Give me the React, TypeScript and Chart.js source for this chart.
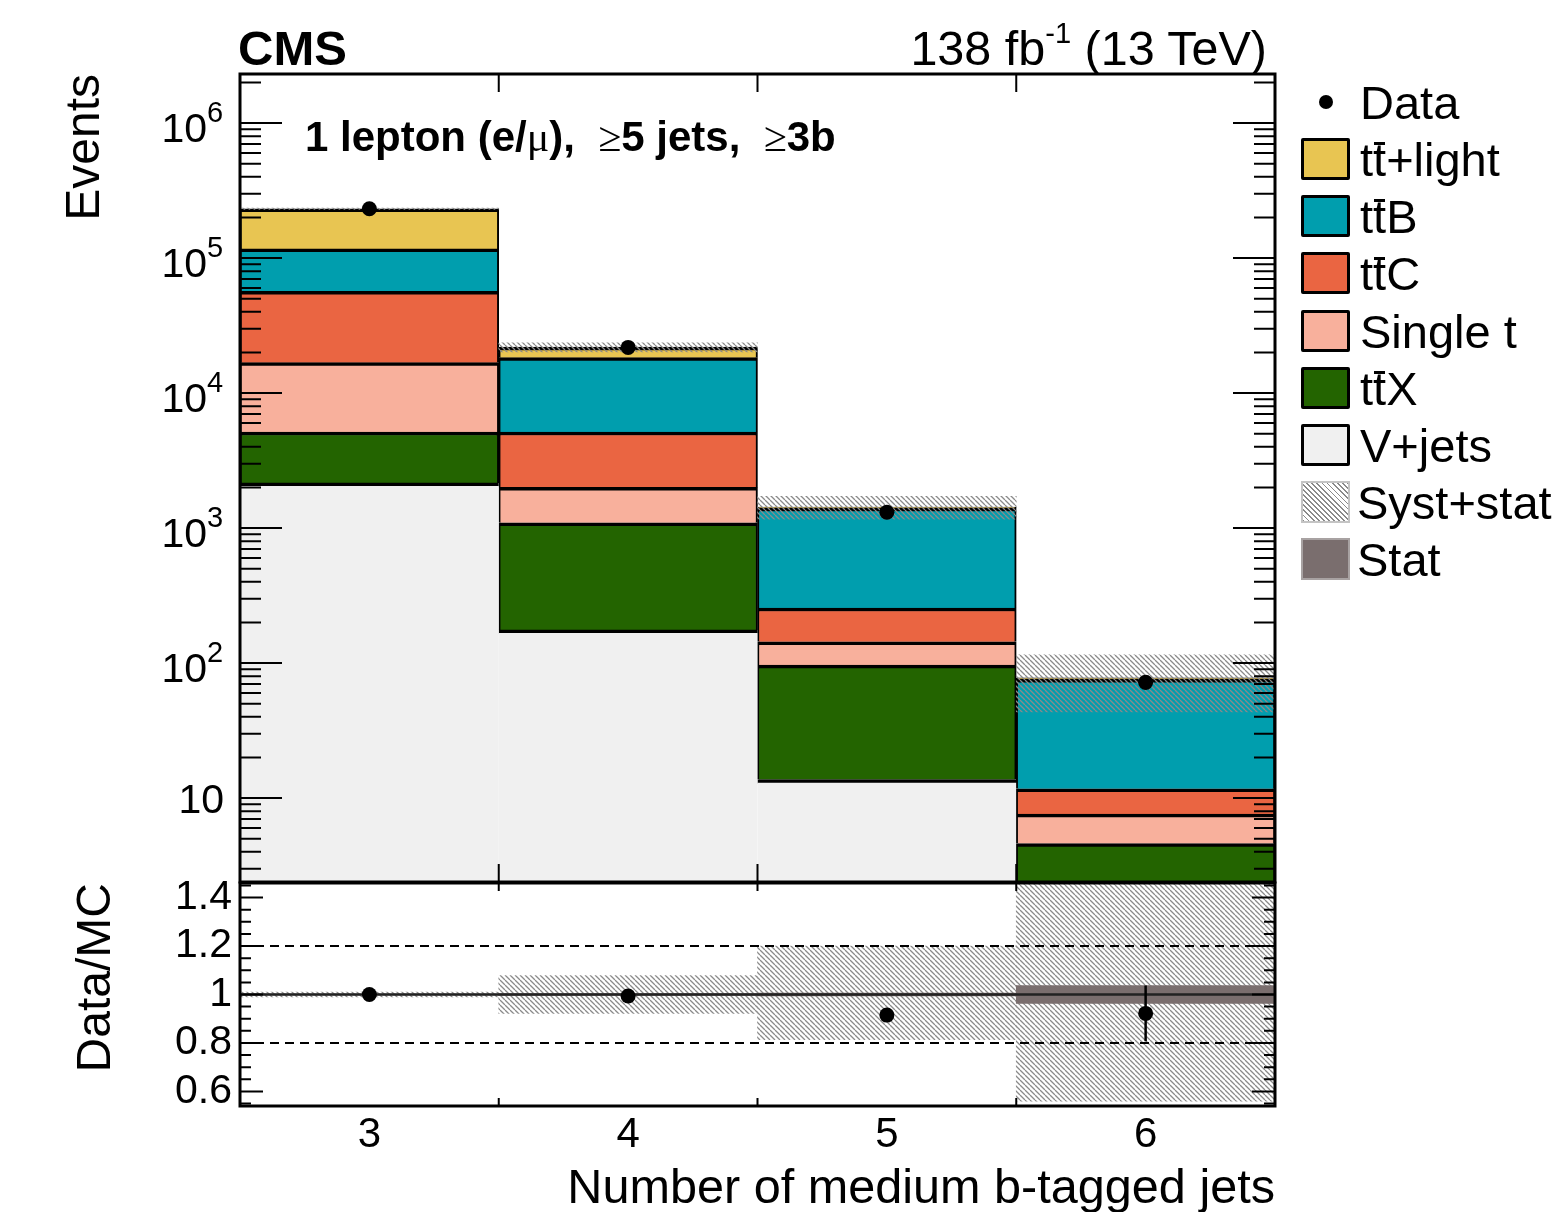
import React, { useEffect, useRef } from 'react';
import { Chart, registerables } from 'chart.js';

Chart.register(...registerables);

const FONT = "'Liberation Sans', Arial, Helvetica, sans-serif";

// ---------------- data ----------------
const categories = ['3', '4', '5', '6'];
const vJets = [2160, 176, 13.7, 0.5];
const ttX = [2990, 920, 83, 4.1];
const singleT = [11650, 904, 47, 3.0];
const ttC = [39900, 3150, 112, 4.1];
const ttB = [60300, 13150, 1150, 64];
const ttLight = [115000, 3600, 25, 2];
const dataCounts = [232000, 21800, 1310, 72];
const dataErr = [480, 148, 36, 8.5];
const systUp = [0.01, 0.078, 0.2, 0.48];
const systDown = [0.01, 0.078, 0.186, 0.44];
const statUnc = [0.002, 0.004, 0.006, 0.037];
const ratioValues = [1.0, 0.994, 0.915, 0.922];
const ratioErrUp = [0.003, 0.007, 0.026, 0.115];
const ratioErrDown = [0.003, 0.007, 0.026, 0.115];
const logTickValues = [10, 100, 1000, 10000, 100000, 1000000];
const logTickBases = ['10', '10', '10', '10', '10', '10'];
const logTickExponents = ['', '2', '3', '4', '5', '6'];
const ratioTickValues = [0.6, 0.8, 1.0, 1.2, 1.4];
const ratioTickLabels = ['0.6', '0.8', '1', '1.2', '1.4'];
const ratioDashedLines = [0.8, 1.2];
const ratioSolidLines = [1.0];

// ---------------- styles ----------------
const COL = {
  ttLight: '#E8C552',
  ttB: '#009EAE',
  ttC: '#EA6542',
  singleT: '#F8B09C',
  ttX: '#236400',
  vJets: '#F0F0F0',
  stat: '#7A6E6E',
  hatch: '#8A8A8A',
};

const Y_MIN = 2.39;
const Y_MAX = 2.31e6;
const R_MIN = 0.54;
const R_MAX = 1.46;

function makeHatch(ctx: CanvasRenderingContext2D, color: string, size = 5, lw = 1.3) {
  const c = document.createElement('canvas');
  c.width = size;
  c.height = size;
  const g = c.getContext('2d')!;
  g.strokeStyle = color;
  g.lineWidth = lw;
  g.beginPath();
  for (let k = -1; k <= 1; k++) {
    g.moveTo(k * size, 0);
    g.lineTo(k * size + size, size);
  }
  g.stroke();
  return ctx.createPattern(c, 'repeat')!;
}

function framePlugin(kind: 'main' | 'ratio') {
  return {
    id: 'frameTicks_' + kind,
    afterDraw(chart: any) {
      const { ctx, chartArea: a, scales } = chart;
      const x = scales.x;
      const y = scales.y;
      ctx.save();
      ctx.strokeStyle = '#000';
      ctx.lineWidth = 2;
      ctx.beginPath();
      const ticks: [number, number][] = [];
      if (kind === 'main') {
        for (let d = 0; d <= 6; d++) {
          for (let k = 1; k <= 9; k++) ticks.push([k * Math.pow(10, d), k === 1 ? 42 : 21]);
        }
      } else {
        for (let i = 11; i <= 29; i++) ticks.push([i * 0.05, i % 4 === 0 ? 23 : 11]);
      }
      for (const [v, len] of ticks) {
        const py = y.getPixelForValue(v);
        if (py < a.top + 1 || py > a.bottom - 1) continue;
        ctx.moveTo(a.left, py);
        ctx.lineTo(a.left + len, py);
        ctx.moveTo(a.right, py);
        ctx.lineTo(a.right - len, py);
      }
      const xl = kind === 'main' ? 18 : 8;
      for (let i = 0; i < categories.length - 1; i++) {
        const px = (x.getPixelForValue(i) + x.getPixelForValue(i + 1)) / 2;
        ctx.moveTo(px, a.bottom);
        ctx.lineTo(px, a.bottom - xl);
        ctx.moveTo(px, a.top);
        ctx.lineTo(px, a.top + xl);
      }
      ctx.stroke();
      ctx.lineWidth = 3;
      ctx.strokeRect(a.left, a.top, a.right - a.left, a.bottom - a.top);

      if (kind === 'main') {
        // ROOT-style power-of-ten labels, positioned by the log scale
        ctx.fillStyle = '#000';
        ctx.textBaseline = 'alphabetic';
        logTickValues.forEach((v, i) => {
          const py = y.getPixelForValue(v);
          const exp = logTickExponents[i];
          if (!exp) {
            ctx.font = `41px ${FONT}`;
            ctx.textAlign = 'right';
            ctx.fillText(logTickBases[i], 224, py + 15);
          } else {
            ctx.font = `41px ${FONT}`;
            ctx.textAlign = 'right';
            ctx.fillText(logTickBases[i], 207, py + 19);
            ctx.font = `29px ${FONT}`;
            ctx.textAlign = 'left';
            ctx.fillText(exp, 207, py - 1);
          }
        });
      }
      ctx.restore();
    },
  };
}

function errorBarPlugin(id: string, values: number[], up: number[], down: number[]) {
  return {
    id,
    afterDatasetsDraw(chart: any) {
      const { ctx, chartArea: a, scales } = chart;
      ctx.save();
      ctx.beginPath();
      ctx.rect(a.left, a.top, a.right - a.left, a.bottom - a.top);
      ctx.clip();
      ctx.strokeStyle = '#000';
      ctx.lineWidth = 2.5;
      ctx.beginPath();
      values.forEach((v, i) => {
        const px = scales.x.getPixelForValue(i);
        ctx.moveTo(px, scales.y.getPixelForValue(v + up[i]));
        ctx.lineTo(px, scales.y.getPixelForValue(v - down[i]));
      });
      ctx.stroke();
      ctx.restore();
    },
  };
}

const refLinePlugin = {
  id: 'refLines',
  beforeDatasetDraw(chart: any, args: any) {
    if (args.index !== 0) return;
    const { ctx, chartArea: a, scales } = chart;
    ctx.save();
    ctx.strokeStyle = '#000';
    ctx.lineWidth = 2;
    ctx.setLineDash([9, 6]);
    ctx.beginPath();
    ratioDashedLines.forEach((v) => {
      const py = scales.y.getPixelForValue(v);
      ctx.moveTo(a.left, py);
      ctx.lineTo(a.right, py);
    });
    ctx.stroke();
    ctx.setLineDash([]);
    ctx.strokeStyle = '#222';
    ctx.lineWidth = 2.5;
    ctx.beginPath();
    ratioSolidLines.forEach((v) => {
      const py = scales.y.getPixelForValue(v);
      ctx.moveTo(a.left, py);
      ctx.lineTo(a.right, py);
    });
    ctx.stroke();
    ctx.restore();
  },
};

const barCommon = {
  grouped: false,
  barPercentage: 1,
  categoryPercentage: 1,
  borderSkipped: false as const,
};

function TBar() {
  return (
    <span style={{ position: 'relative', display: 'inline-block' }}>
      t
      <span
        style={{
          position: 'absolute',
          left: '0.02em',
          right: '0.02em',
          top: '0.13em',
          height: '0.065em',
          background: '#000',
        }}
      />
    </span>
  );
}

function Txt(props: {
  x?: number;
  right?: number;
  baseline: number;
  size: number;
  bold?: boolean;
  children: any;
}) {
  const { x, right, baseline, size, bold, children } = props;
  const style: any = {
    position: 'absolute',
    top: baseline - 0.8465 * size,
    fontSize: size,
    lineHeight: size + 'px',
    fontWeight: bold ? 'bold' : 'normal',
    whiteSpace: 'pre',
    fontFamily: FONT,
    color: '#000',
  };
  if (right !== undefined) {
    style.right = 1562 - right;
    style.textAlign = 'right';
  } else {
    style.left = x;
  }
  return <div style={style}>{children}</div>;
}

const hatchCss =
  'repeating-linear-gradient(45deg, #8a8a8a 0px, #8a8a8a 1.3px, #ffffff 1.3px, #ffffff 3.6px)';

const legendRows: { label: any; fill?: string; kind: 'dot' | 'box' | 'hatch' | 'stat' }[] = [
  { label: 'Data', kind: 'dot' },
  { label: <><span>t</span><TBar />+light</>, kind: 'box', fill: COL.ttLight },
  { label: <><span>t</span><TBar />B</>, kind: 'box', fill: COL.ttB },
  { label: <><span>t</span><TBar />C</>, kind: 'box', fill: COL.ttC },
  { label: 'Single t', kind: 'box', fill: COL.singleT },
  { label: <><span>t</span><TBar />X</>, kind: 'box', fill: COL.ttX },
  { label: 'V+jets', kind: 'box', fill: COL.vJets },
  { label: 'Syst+stat', kind: 'hatch' },
  { label: 'Stat', kind: 'stat' },
];

export default function App() {
  const mainRef = useRef<HTMLCanvasElement>(null);
  const ratioRef = useRef<HTMLCanvasElement>(null);

  useEffect(() => {
    const mctx = mainRef.current!.getContext('2d')!;
    const rctx = ratioRef.current!.getContext('2d')!;
    const mainHatch = makeHatch(mctx, COL.hatch);
    const ratioHatch = makeHatch(rctx, COL.hatch);

    const stackOrder = [
      { label: 'V+jets', values: vJets, color: COL.vJets, side: 0 },
      { label: 'ttX', values: ttX, color: COL.ttX, side: 2 },
      { label: 'Single t', values: singleT, color: COL.singleT, side: 2 },
      { label: 'ttC', values: ttC, color: COL.ttC, side: 2 },
      { label: 'ttB', values: ttB, color: COL.ttB, side: 2 },
      { label: 'tt+light', values: ttLight, color: COL.ttLight, side: 2 },
    ];
    const cum = categories.map(() => 1e-3);
    const stackDatasets = stackOrder.map((s) => {
      const data = s.values.map((v, i) => {
        const lo = cum[i];
        const hi = lo + v;
        cum[i] = hi;
        return [lo, hi];
      });
      return {
        ...barCommon,
        type: 'bar' as const,
        label: s.label,
        data,
        backgroundColor: s.color,
        borderColor: '#000',
        borderWidth: { top: 3.5, left: s.side, right: s.side, bottom: 0 },
        order: 2,
      };
    });
    const totals = cum.slice();
    const bandMain = totals.map((t, i) => [t * (1 - systDown[i]), t * (1 + systUp[i])]);

    const yTitle = (text: string, pad: number) => ({
      display: true,
      text,
      align: 'end' as const,
      color: '#000',
      font: { family: FONT, size: 48, lineHeight: 1 },
      padding: { top: pad, bottom: 0 },
    });

    const noVPad = (scale: any) => {
      scale.width = 240;
      scale.paddingTop = 0;
      scale.paddingBottom = 0;
    };

    const mainChart = new Chart(mctx, {
      type: 'bar',
      data: {
        labels: categories,
        datasets: [
          {
            type: 'line',
            label: 'Data',
            data: dataCounts,
            showLine: false,
            pointRadius: 7.5,
            pointHoverRadius: 7.5,
            pointBackgroundColor: '#000',
            pointBorderWidth: 0,
            order: 0,
          } as any,
          {
            ...barCommon,
            type: 'bar',
            label: 'Syst+stat',
            data: bandMain,
            backgroundColor: mainHatch,
            borderWidth: 0,
            order: 1,
          } as any,
          ...(stackDatasets as any[]),
        ],
      },
      options: {
        animation: false,
        responsive: false,
        events: [],
        layout: { padding: { left: 0, top: 74, right: 287, bottom: 8 } },
        plugins: { legend: { display: false }, tooltip: { enabled: false } },
        scales: {
          x: { type: 'category', display: false, offset: true },
          y: {
            type: 'logarithmic',
            min: Y_MIN,
            max: Y_MAX,
            grid: { display: false, drawTicks: false },
            border: { display: false },
            afterBuildTicks: (scale: any) => {
              scale.ticks = logTickValues.map((v) => ({ value: v }));
            },
            afterFit: noVPad,
            ticks: { display: false, autoSkip: false },
            title: yTitle('Events', 62),
          },
        },
      } as any,
      plugins: [framePlugin('main'), errorBarPlugin('errMain', dataCounts, dataErr, dataErr)],
    });

    const ratioChart = new Chart(rctx, {
      type: 'bar',
      data: {
        labels: categories,
        datasets: [
          {
            type: 'line',
            label: 'Data/MC',
            data: ratioValues,
            showLine: false,
            pointRadius: 7.5,
            pointHoverRadius: 7.5,
            pointBackgroundColor: '#000',
            pointBorderWidth: 0,
            order: 0,
          } as any,
          {
            ...barCommon,
            type: 'bar',
            label: 'Stat',
            data: statUnc.map((u) => [1 - u, 1 + u]),
            backgroundColor: COL.stat,
            borderWidth: 0,
            order: 1,
          } as any,
          {
            ...barCommon,
            type: 'bar',
            label: 'Syst+stat',
            data: systUp.map((u, i) => [1 - systDown[i], 1 + u]),
            backgroundColor: ratioHatch,
            borderWidth: 0,
            order: 2,
          } as any,
        ],
      },
      options: {
        animation: false,
        responsive: false,
        events: [],
        layout: { padding: { left: 0, top: 13, right: 287, bottom: 0 } },
        plugins: { legend: { display: false }, tooltip: { enabled: false } },
        scales: {
          x: {
            type: 'category',
            offset: true,
            grid: { display: false, drawTicks: false },
            border: { display: false },
            afterFit: (scale: any) => {
              scale.height = 106;
              scale.paddingLeft = 0;
              scale.paddingRight = 0;
            },
            ticks: {
              padding: 4,
              color: '#000',
              font: { family: FONT, size: 42 },
            },
            title: {
              display: true,
              text: 'Number of medium b-tagged jets',
              align: 'end',
              color: '#000',
              font: { family: FONT, size: 48.6, lineHeight: 1 },
              padding: { top: 0, bottom: -2 },
            },
          },
          y: {
            type: 'linear',
            min: R_MIN,
            max: R_MAX,
            grid: { display: false, drawTicks: false },
            border: { display: false },
            afterBuildTicks: (scale: any) => {
              scale.ticks = ratioTickValues.map((v) => ({ value: v }));
            },
            afterFit: noVPad,
            ticks: {
              autoSkip: false,
              padding: 8,
              color: '#000',
              font: { family: FONT, size: 41 },
              callback: (v: any) => {
                const idx = ratioTickValues.findIndex((t) => Math.abs(t - Number(v)) < 1e-6);
                return idx >= 0 ? ratioTickLabels[idx] : '';
              },
            },
            title: yTitle('Data/MC', 73),
          },
        },
      } as any,
      plugins: [
        refLinePlugin,
        framePlugin('ratio'),
        errorBarPlugin('errRatio', ratioValues, ratioErrUp, ratioErrDown),
      ],
    });

    return () => {
      mainChart.destroy();
      ratioChart.destroy();
    };
  }, []);

  const rowTop = 101.8;
  const rowStep = 57.2;

  return (
    <div
      style={{
        position: 'absolute',
        left: 0,
        top: 0,
        width: 1562,
        height: 1212,
        background: '#fff',
        overflow: 'hidden',
        fontFamily: FONT,
      }}
    >
      <canvas ref={mainRef} width={1562} height={890} style={{ position: 'absolute', left: 0, top: 0 }} />
      <canvas ref={ratioRef} width={1562} height={342} style={{ position: 'absolute', left: 0, top: 870 }} />

      <Txt x={238} baseline={65} size={49} bold>
        CMS
      </Txt>
      <Txt right={1267} baseline={65} size={48.5}>
        138 fb
        <span style={{ fontSize: '0.6em', position: 'relative', top: '-0.75em' }}>-1</span> (13 TeV)
      </Txt>
      <Txt x={305} baseline={152} size={42} bold>
        {'1 lepton (e/'}
        <span style={{ fontFamily: "'Liberation Serif', serif", fontWeight: 'normal' }}>μ</span>
        {'),  '}
        <span style={{ fontFamily: "'Liberation Serif', serif", fontWeight: 'normal' }}>≥</span>
        {'5 jets,  '}
        <span style={{ fontFamily: "'Liberation Serif', serif", fontWeight: 'normal' }}>≥</span>
        {'3b'}
      </Txt>

      {legendRows.map((r, i) => {
        const c = rowTop + rowStep * i;
        let marker: any = null;
        if (r.kind === 'dot') {
          marker = (
            <div
              style={{
                position: 'absolute',
                left: 1326 - 7,
                top: c - 7,
                width: 14,
                height: 14,
                borderRadius: 7,
                background: '#000',
              }}
            />
          );
        } else {
          const base: any = {
            position: 'absolute',
            left: 1301,
            top: c - 21,
            width: 49,
            height: 42,
            boxSizing: 'border-box',
          };
          if (r.kind === 'box') {
            base.background = r.fill;
            base.border = '3px solid #000';
            base.borderRadius = 2;
          } else if (r.kind === 'hatch') {
            base.background = hatchCss;
            base.border = '2px solid #c4c4c4';
          } else {
            base.background = COL.stat;
            base.border = '2px solid #a8a2a2';
          }
          marker = <div style={base} />;
        }
        return (
          <React.Fragment key={i}>
            {marker}
            <Txt x={r.kind === 'hatch' || r.kind === 'stat' ? 1357 : 1360} baseline={c + 16.8} size={47}>
              {r.label}
            </Txt>
          </React.Fragment>
        );
      })}
    </div>
  );
}
